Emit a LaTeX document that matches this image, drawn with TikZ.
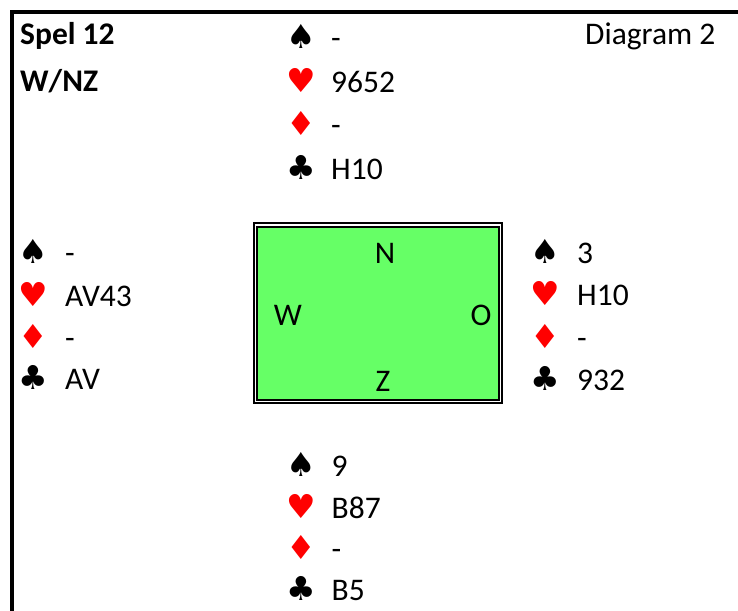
\documentclass[tikz,border=0pt]{standalone}
\usepackage{fontspec}
\setmainfont{Carlito}
\newfontfamily\symfont{DejaVu Sans}
\definecolor{tablegreen}{HTML}{66FF66}
\definecolor{suitred}{HTML}{FF0000}
\begin{document}
\begin{tikzpicture}[x=1pt,y=-1pt,
  txt/.style={anchor=base west, inner sep=0pt, text depth=0pt, font=\fontsize{31.5}{31.5}\selectfont},
  boldtxt/.style={anchor=base west, inner sep=0pt, font=\fontsize{31.5}{31.5}\selectfont\bfseries},
  dirtxt/.style={anchor=base, inner sep=0pt, font=\fontsize{31.5}{31.5}\selectfont},
  blacksuit/.style={anchor=base, inner sep=0pt, text depth=0pt, font=\symfont\fontsize{33}{33}\selectfont, text=black},
  redsuit/.style={anchor=base, inner sep=0pt, text depth=0pt, font=\symfont\fontsize{33}{33}\selectfont, text=suitred},
  frameline/.style={line width=4pt},
  boxline/.style={line width=2pt}
]
\useasboundingbox (0,0) rectangle (738,610);
% frame
\draw[frameline] (12,615) -- (12,12) -- (742,12);
% titles
\node[boldtxt] (spel) at (20,45) {Spel 12};
\node[boldtxt] (dealer) at (20,91.5) {W/NZ};
\node[txt] (diag) at (585,45) {Diagram 2};
% table
\draw[boxline, fill=white] (254,223) rectangle (502,403);
\draw[boxline, fill=tablegreen] (257,226.5) rectangle (498.5,399.5);
\node[dirtxt] (dn) at (385,263) {N};
\node[dirtxt] (dw) at (288,325) {W};
\node[dirtxt] (do) at (481,325) {O};
\node[dirtxt] (dz) at (383,391) {Z};
% North
\node[blacksuit] (ns) at (301.7,48.5) {♠};
\node[redsuit]   (nh) at (301.7,92) {♥};
\node[redsuit]   (nd) at (301.7,135.5) {♦};
\node[blacksuit] (nc) at (301.7,179) {♣};
\node[txt] (nst) at (331,48.5) {-};
\node[txt] (nht) at (331,92) {9652};
\node[txt] (ndt) at (331,135.5) {-};
\node[txt] (nct) at (331,179) {H10};
% West
\node[blacksuit] (ws) at (33,263.5) {♠};
\node[redsuit]   (wh) at (33,306) {♥};
\node[redsuit]   (wd) at (33,348) {♦};
\node[blacksuit] (wc) at (33,389.5) {♣};
\node[txt] (wst) at (65,263.5) {-};
\node[txt] (wht) at (65,306) {AV43};
\node[txt] (wdt) at (65,348) {-};
\node[txt] (wct) at (65,389.5) {AV};
% East
\node[blacksuit] (es) at (545,263) {♠};
\node[redsuit]   (eh) at (545,305.5) {♥};
\node[redsuit]   (ed) at (545,348) {♦};
\node[blacksuit] (ec) at (545,390) {♣};
\node[txt] (est) at (577,263) {3};
\node[txt] (eht) at (577,305.5) {H10};
\node[txt] (edt) at (577,348) {-};
\node[txt] (ect) at (577,390) {932};
% South
\node[blacksuit] (ss) at (301.7,476) {♠};
\node[redsuit]   (sh) at (301.7,518) {♥};
\node[redsuit]   (sd) at (301.7,559.5) {♦};
\node[blacksuit] (sc) at (301.7,600.5) {♣};
\node[txt] (sst) at (331.5,476) {9};
\node[txt] (sht) at (331.5,518) {B87};
\node[txt] (sdt) at (331.5,559.5) {-};
\node[txt] (sct) at (331.5,600.5) {B5};
\end{tikzpicture}
\end{document}
